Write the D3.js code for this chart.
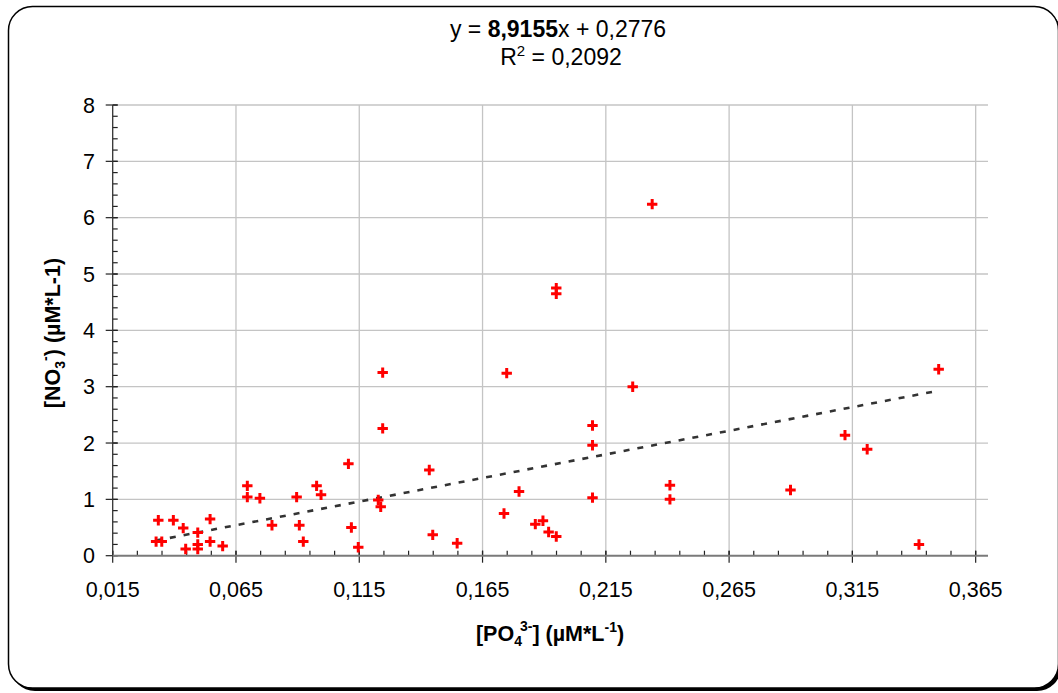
<!DOCTYPE html>
<html>
<head>
<meta charset="utf-8">
<script src="https://cdn.jsdelivr.net/npm/d3@7"></script>
<style>
  html, body { margin: 0; padding: 0; background: #fff; }
  svg { display: block; font-family: "Liberation Sans", Arial, sans-serif; }
</style>
</head>
<body>
<div id="chart"></div>
<script>
// phosphate (x) vs nitrate (y)
const po4 = [0.0326, 0.0349, 0.0335, 0.0396, 0.0436, 0.0446, 0.0495, 0.0495, 0.0495, 0.0545,
  0.0545, 0.0596, 0.0696, 0.0696, 0.0747, 0.0796, 0.0896, 0.0907, 0.0923, 0.0977,
  0.0995, 0.1106, 0.1118, 0.1146, 0.1245, 0.1245, 0.1227, 0.1237, 0.1434, 0.1448,
  0.1547, 0.1748, 0.1737, 0.1798, 0.1864, 0.1895, 0.1918, 0.1949, 0.1949, 0.1949,
  0.2096, 0.2096, 0.2096, 0.2259, 0.241, 0.241, 0.2338, 0.2899, 0.312, 0.321,
  0.342, 0.35];
const no3 = [0.25, 0.25, 0.63, 0.63, 0.49, 0.12, 0.41, 0.2, 0.12, 0.65,
  0.25, 0.17, 1.24, 1.04, 1.02, 0.54, 1.04, 0.54, 0.25, 1.24,
  1.08, 1.63, 0.5, 0.15, 3.25, 2.26, 0.99, 0.87, 1.52, 0.37,
  0.22, 3.24, 0.75, 1.14, 0.56, 0.62, 0.42, 0.34, 4.75, 4.65,
  2.31, 1.96, 1.03, 3.0, 1.25, 1.0, 6.24, 1.165, 2.14, 1.89,
  0.2, 3.31];

// trend line as drawn (two ends)
const trendX = [0.0326, 0.35];
const trendY = [0.27, 2.93];

const xTicks = [0.015, 0.065, 0.115, 0.165, 0.215, 0.265, 0.315, 0.365];
const yTicks = [0, 1, 2, 3, 4, 5, 6, 7, 8];
const xDomain = [0.015, 0.37];
const yDomain = [0, 8];

const width = 1058, height = 693;
const plot = {left: 112.7, right: 988, top: 105, bottom: 555.7};

const svg = d3.select("#chart").append("svg")
  .attr("width", width)
  .attr("height", height);

// frame with shadow
svg.append("rect")
  .attr("x", 11).attr("y", 9.5)
  .attr("width", 1050).attr("height", 681.5)
  .attr("rx", 24).attr("ry", 24)
  .attr("fill", "#000");
svg.append("rect")
  .attr("x", 8.5).attr("y", 6.5)
  .attr("width", 1050).attr("height", 681.5)
  .attr("rx", 24).attr("ry", 24)
  .attr("fill", "#fff")
  .attr("stroke", "#000")
  .attr("stroke-width", 1.5);

const x = d3.scaleLinear().domain(xDomain).range([plot.left, plot.right]);
const y = d3.scaleLinear().domain(yDomain).range([plot.bottom, plot.top]);

// gridlines
const grid = svg.append("g").attr("stroke", "#c4c4c4").attr("stroke-width", 1.3);
grid.selectAll(".hg").data(yTicks.filter(d => d > 0)).enter().append("line")
  .attr("x1", plot.left).attr("x2", plot.right)
  .attr("y1", d => y(d)).attr("y2", d => y(d));
grid.selectAll(".vg").data(xTicks.slice(1)).enter().append("line")
  .attr("x1", d => x(d)).attr("x2", d => x(d))
  .attr("y1", plot.top).attr("y2", plot.bottom);

// minor ticks (inside)
const xMinor = d3.range(0, 36).map(i => +(0.015 + i * 0.01).toFixed(3)).filter(v => v <= 0.37);
const yMinor = d3.range(0, 41).map(i => +(i * 0.2).toFixed(1));

const ticks = svg.append("g").attr("stroke", "#222").attr("stroke-width", 1.2);
ticks.selectAll(".xm").data(xMinor).enter().append("line")
  .attr("x1", d => x(d)).attr("x2", d => x(d))
  .attr("y1", plot.bottom - 5).attr("y2", plot.bottom);
ticks.selectAll(".ym").data(yMinor).enter().append("line")
  .attr("x1", plot.left).attr("x2", plot.left + 5)
  .attr("y1", d => y(d)).attr("y2", d => y(d));
// major ticks (cross)
ticks.selectAll(".xM").data(xTicks).enter().append("line")
  .attr("x1", d => x(d)).attr("x2", d => x(d))
  .attr("y1", plot.bottom - 5).attr("y2", plot.bottom + 7);
ticks.selectAll(".yM").data(yTicks).enter().append("line")
  .attr("x1", plot.left - 7).attr("x2", plot.left + 5)
  .attr("y1", d => y(d)).attr("y2", d => y(d));

// axis lines
svg.append("line")
  .attr("x1", plot.left).attr("x2", plot.left)
  .attr("y1", plot.top).attr("y2", plot.bottom)
  .attr("stroke", "#333").attr("stroke-width", 1.3);
svg.append("line")
  .attr("x1", plot.left).attr("x2", plot.right)
  .attr("y1", plot.bottom).attr("y2", plot.bottom)
  .attr("stroke", "#7a7a7a").attr("stroke-width", 2);

// tick labels
const fmt = d => d.toFixed(3).replace(".", ",");
svg.append("g").selectAll("text").data(xTicks).enter().append("text")
  .attr("x", d => x(d)).attr("y", 597)
  .attr("text-anchor", "middle")
  .attr("font-size", 21.5)
  .text(fmt);
svg.append("g").selectAll("text").data(yTicks).enter().append("text")
  .attr("x", 95).attr("y", d => y(d) + 7.5)
  .attr("text-anchor", "end")
  .attr("font-size", 21.5)
  .text(d => d);

// trend line
svg.append("line")
  .attr("x1", x(trendX[0])).attr("y1", y(trendY[0]))
  .attr("x2", x(trendX[1])).attr("y2", y(trendY[1]))
  .attr("stroke", "#333")
  .attr("stroke-width", 2.6)
  .attr("stroke-dasharray", "6,8");

// markers
const pts = po4.map((v, i) => ({x: v, y: no3[i]}));
const s = 5.2;
svg.append("g").selectAll("path").data(pts).enter().append("path")
  .attr("d", d => {
    const cx = x(d.x), cy = y(d.y);
    return `M${cx - s},${cy}H${cx + s}M${cx},${cy - s}V${cy + s}`;
  })
  .attr("stroke", "#ff0000")
  .attr("stroke-width", 3)
  .attr("fill", "none");

// equation title
const t1 = svg.append("text").attr("x", 558).attr("y", 37)
  .attr("text-anchor", "middle").attr("font-size", 23);
t1.append("tspan").text("y = ");
t1.append("tspan").attr("font-weight", "bold").text("8,9155");
t1.append("tspan").text("x + 0,2776");

const t2 = svg.append("text").attr("x", 561).attr("y", 65)
  .attr("text-anchor", "middle").attr("font-size", 23);
t2.append("tspan").text("R");
t2.append("tspan").attr("font-size", 15).attr("dy", -9).text("2");
t2.append("tspan").attr("dy", 9).text(" = 0,2092");

// x axis title
const xl = svg.append("text").attr("x", 550).attr("y", 641)
  .attr("text-anchor", "middle").attr("font-size", 21.5).attr("font-weight", "bold");
xl.append("tspan").text("[PO");
xl.append("tspan").attr("font-size", 14).attr("dy", 5).text("4");
xl.append("tspan").attr("font-size", 14).attr("dy", -15).attr("dx", -2).text("3-");
xl.append("tspan").attr("dy", 10).text("] (µM*L");
xl.append("tspan").attr("font-size", 14).attr("dy", -9).text("-1");
xl.append("tspan").attr("dy", 9).text(")");

// y axis title
const yl = svg.append("text")
  .attr("transform", "translate(60,333) rotate(-90)")
  .attr("text-anchor", "middle").attr("font-size", 21.5).attr("font-weight", "bold");
yl.append("tspan").text("[NO");
yl.append("tspan").attr("font-size", 14).attr("dy", 5).text("3");
yl.append("tspan").attr("font-size", 14).attr("dy", -15).text("-");
yl.append("tspan").attr("dy", 10).text(") (µM*L-1)");
</script>
</body>
</html>
